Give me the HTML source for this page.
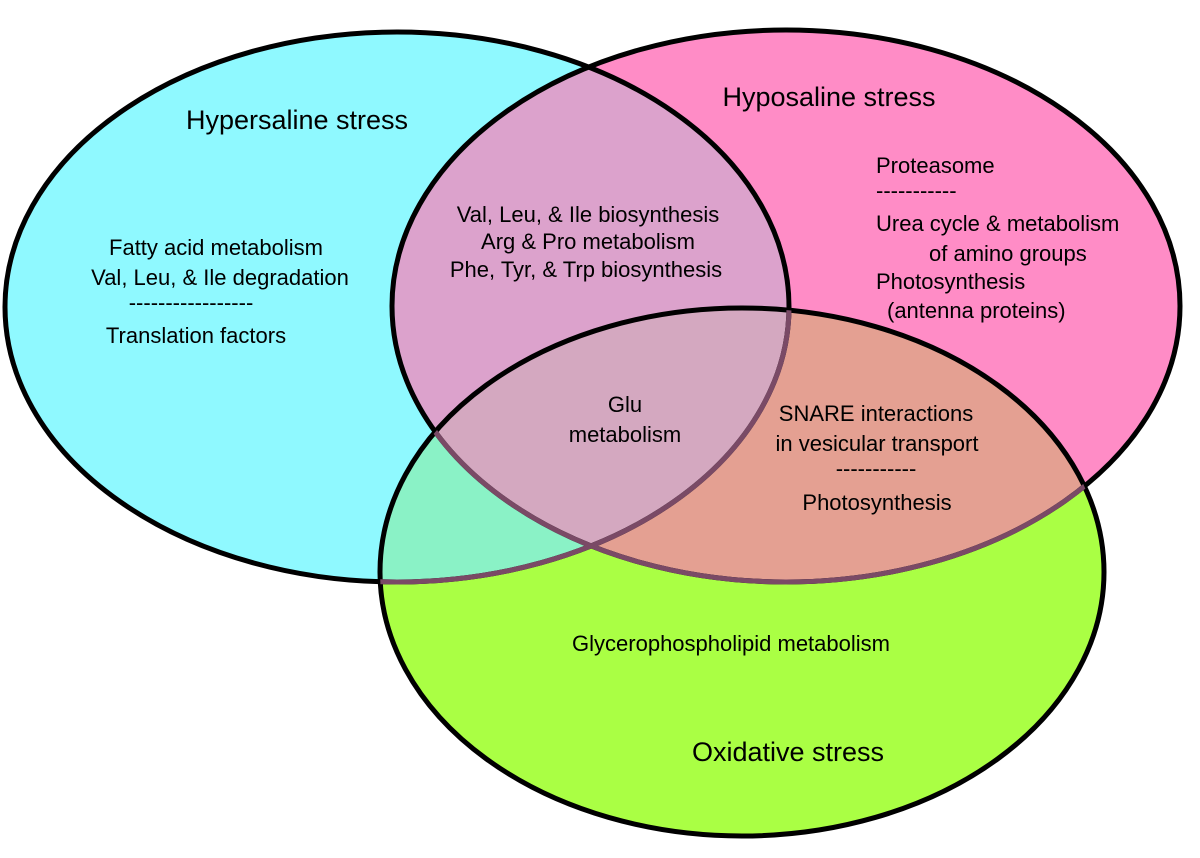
<!DOCTYPE html>
<html><head><meta charset="utf-8"><style>
html,body{margin:0;padding:0;background:#fff;}
svg{display:block;}
text{font-family:"Liberation Sans",sans-serif;fill:#000;}
</style></head><body>
<svg width="1200" height="858" viewBox="0 0 1200 858" xmlns="http://www.w3.org/2000/svg">
<defs>
<clipPath id="cC"><ellipse cx="397" cy="307" rx="392" ry="275"/></clipPath>
<clipPath id="cP"><ellipse cx="786" cy="306" rx="394" ry="276"/></clipPath>
<clipPath id="cG"><ellipse cx="742" cy="572" rx="362" ry="264"/></clipPath>
</defs>
<ellipse cx="397" cy="307" rx="392" ry="275" fill="#8ff9ff"/>
<ellipse cx="786" cy="306" rx="394" ry="276" fill="#ff8cc6"/>
<ellipse cx="742" cy="572" rx="362" ry="264" fill="#aaff44"/>
<g clip-path="url(#cC)">
 <ellipse cx="786" cy="306" rx="394" ry="276" fill="#dca2cc"/>
 <ellipse cx="742" cy="572" rx="362" ry="264" fill="#8af2c6"/>
</g>
<g clip-path="url(#cP)">
 <ellipse cx="742" cy="572" rx="362" ry="264" fill="#e4a092"/>
</g>
<g clip-path="url(#cC)"><g clip-path="url(#cP)">
 <ellipse cx="742" cy="572" rx="362" ry="264" fill="#d4a8c0"/>
</g></g>
<g fill="none" stroke-width="5">
 <ellipse cx="397" cy="307" rx="392" ry="275" stroke="#000"/>
 <ellipse cx="786" cy="306" rx="394" ry="276" stroke="#000"/>
 <ellipse cx="742" cy="572" rx="362" ry="264" stroke="#000"/>
</g>
<g fill="none" stroke-width="5" stroke="#7a4a66">
 <g clip-path="url(#cG)">
  <ellipse cx="397" cy="307" rx="392" ry="275"/>
  <ellipse cx="786" cy="306" rx="394" ry="276"/>
 </g>
</g>
<g font-size="27" text-anchor="middle">
<text x="297" y="129">Hypersaline stress</text>
<text x="829" y="106">Hyposaline stress</text>
<text x="788" y="761">Oxidative  stress</text>
</g>
<g font-size="22" text-anchor="middle">
<text x="216" y="255">Fatty acid metabolism</text>
<text x="220" y="285">Val, Leu, &amp; Ile degradation</text>
<text x="191" y="310">-----------------</text>
<text x="196" y="343">Translation factors</text>
<text x="588" y="222">Val, Leu, &amp; Ile biosynthesis</text>
<text x="588" y="249">Arg &amp; Pro metabolism</text>
<text x="586" y="277">Phe, Tyr, &amp; Trp biosynthesis</text>
<text x="625" y="412">Glu</text>
<text x="625" y="442">metabolism</text>
<text x="876" y="421">SNARE interactions</text>
<text x="877" y="451">in vesicular transport</text>
<text x="876" y="476">-----------</text>
<text x="877" y="510">Photosynthesis</text>
<text x="731" y="651">Glycerophospholipid metabolism</text>
</g>
<g font-size="22">
<text x="876" y="173">Proteasome</text>
<text x="876" y="198">-----------</text>
<text x="876" y="231">Urea cycle &amp; metabolism</text>
<text x="929" y="261">of amino groups</text>
<text x="876" y="289">Photosynthesis</text>
<text x="887" y="318">(antenna proteins)</text>
</g>
</svg>
</body></html>
